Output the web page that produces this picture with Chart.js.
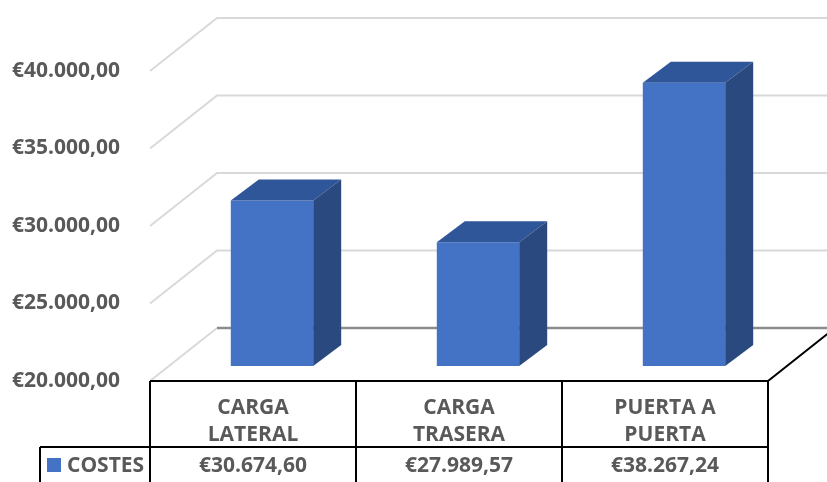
<!DOCTYPE html>
<html>
<head>
<meta charset="utf-8">
<script src="https://cdn.jsdelivr.net/npm/chart.js@4.4.1/dist/chart.umd.min.js"></script>
<style>
    html, body { margin: 0; padding: 0; background: #fff; }
    #wrap { width: 827px; height: 482px; position: relative; }
</style>
</head>
<body>
<div id="wrap"><canvas id="costChart"></canvas></div>
<script>
// data
const categories = [['CARGA', 'LATERAL'], ['CARGA', 'TRASERA'], ['PUERTA A', 'PUERTA']];
const seriesName = 'COSTES';
const costs = [30674.60, 27989.57, 38267.24];
const yMin = 20000;
const yMax = 40000;
const yStep = 5000;

// 3d look
const WALL_DX = 67, WALL_DY = -53;     // depth of the floor / back wall
const BAR_DX = 19, BAR_DY = -15;       // where the bar front face sits
const FACE_DX = 28, FACE_DY = -21;     // bar depth
const FONT = 'bold 21px "Open Sans"';
const TEXT = '#595959';

function euro(v) {
    const parts = v.toFixed(2).split('.');
    const int = parts[0].replace(/\B(?=(\d{3})+(?!\d))/g, '.');
    return '€' + int + ',' + parts[1];
}

const threeD = {
    id: 'threeD',
    beforeDatasetsDraw(chart) {
        const ctx = chart.ctx;
        const y = chart.scales.y;
        const area = chart.chartArea;
        const W = chart.width;

        ctx.save();
        ctx.lineWidth = 2;
        for (let v = yMin; v <= yMax; v += yStep) {
            const fy = y.getPixelForValue(v);
            ctx.strokeStyle = '#d9d9d9';
            ctx.beginPath();
            ctx.moveTo(area.left, fy);
            ctx.lineTo(area.left + WALL_DX, fy + WALL_DY);
            if (v !== yMin) ctx.lineTo(W, fy + WALL_DY);
            ctx.stroke();
        }
        // floor back edge
        const by = y.getPixelForValue(yMin) + WALL_DY;
        ctx.strokeStyle = '#8c8c8c';
        ctx.lineWidth = 2.5;
        ctx.beginPath();
        ctx.moveTo(area.left + WALL_DX, by);
        ctx.lineTo(W, by);
        ctx.stroke();
        ctx.restore();

        ctx.save();
        ctx.translate(BAR_DX, BAR_DY);
    },
    afterDatasetsDraw(chart) {
        const ctx = chart.ctx;
        const meta = chart.getDatasetMeta(0);
        const base = chart.scales.y.getPixelForValue(yMin);
        meta.data.forEach(bar => {
            const p = bar.getProps(['x', 'y', 'width'], true);
            const l = p.x - p.width / 2, r = p.x + p.width / 2;
            ctx.fillStyle = '#30569a';
            ctx.beginPath();
            ctx.moveTo(l, p.y);
            ctx.lineTo(r, p.y);
            ctx.lineTo(r + FACE_DX, p.y + FACE_DY);
            ctx.lineTo(l + FACE_DX, p.y + FACE_DY);
            ctx.closePath();
            ctx.fill();
            ctx.fillStyle = '#2a4a7f';
            ctx.beginPath();
            ctx.moveTo(r, p.y);
            ctx.lineTo(r + FACE_DX, p.y + FACE_DY);
            ctx.lineTo(r + FACE_DX, base + FACE_DY);
            ctx.lineTo(r, base);
            ctx.closePath();
            ctx.fill();
        });
        ctx.restore();
    },
    afterDraw(chart) {
        // data table under the floor
        const ctx = chart.ctx;
        const area = chart.chartArea;
        const x = chart.scales.x;
        const top = area.bottom, mid = top + 66, bot = mid + 66;
        const step = (area.right - area.left) / categories.length;

        ctx.save();
        ctx.strokeStyle = '#000';
        ctx.lineWidth = 2;
        ctx.beginPath();
        ctx.moveTo(area.left, top); ctx.lineTo(area.right, top);
        ctx.lineTo(area.right + WALL_DX, top + WALL_DY);
        ctx.moveTo(40, mid); ctx.lineTo(area.right, mid);
        ctx.moveTo(40, bot); ctx.lineTo(area.right, bot);
        ctx.moveTo(40, mid); ctx.lineTo(40, bot);
        for (let i = 0; i <= categories.length; i++) {
            const cx = area.left + i * step;
            ctx.moveTo(cx, top); ctx.lineTo(cx, bot);
        }
        ctx.stroke();

        ctx.font = FONT;
        ctx.fillStyle = TEXT;
        ctx.textAlign = 'center';
        ctx.textBaseline = 'middle';
        categories.forEach((lines, i) => {
            const cx = x.getPixelForValue(i);
            lines.forEach((t, j) => ctx.fillText(t, cx, top + 27 + j * 27));
            ctx.fillText(euro(costs[i]), cx, mid + 19);
        });

        ctx.fillStyle = '#4472c4';
        ctx.fillRect(47, mid + 11, 14, 14);
        ctx.fillStyle = TEXT;
        ctx.textAlign = 'left';
        ctx.fillText(seriesName, 67, mid + 19);
        ctx.restore();
    }
};

new Chart(document.getElementById('costChart'), {
    type: 'bar',
    data: {
        labels: categories,
        datasets: [{
            label: seriesName,
            data: costs,
            backgroundColor: '#4472c4',
            borderWidth: 0,
            categoryPercentage: 1,
            barPercentage: 0.4,
        }]
    },
    options: {
        responsive: true,
        maintainAspectRatio: false,
        animation: false,
        events: [],
        layout: { padding: { left: 0, top: 71, right: 59, bottom: 101 } },
        plugins: {
            legend: { display: false },
            tooltip: { enabled: false },
        },
        scales: {
            x: { display: false },
            y: {
                min: yMin,
                max: yMax,
                grid: { display: false },
                border: { display: false },
                ticks: {
                    stepSize: yStep,
                    padding: 22,
                    color: TEXT,
                    font: { family: 'Open Sans', size: 21, weight: 'bold' },
                    callback: v => euro(v),
                },
                afterFit(scale) { scale.width = 150; }
            }
        }
    },
    plugins: [threeD]
});
</script>
</body>
</html>
